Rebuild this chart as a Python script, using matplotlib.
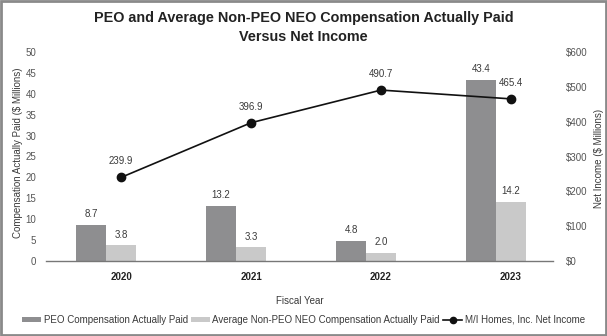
import matplotlib
matplotlib.use("Agg")
import matplotlib.pyplot as plt
from matplotlib.lines import Line2D
from matplotlib.patches import Patch, Rectangle
import numpy as np

plt.rcParams['font.family'] = ['Liberation Sans', 'DejaVu Sans']

years = ["2020", "2021", "2022", "2023"]
peo_cap = [8.7, 13.2, 4.8, 43.4]
neo_cap = [3.8, 3.3, 2.0, 14.2]
net_income = [239.9, 396.9, 490.7, 465.4]

peo_color = "#8e8e90"
neo_color = "#c9c9c9"
text_color = "#3a3a3a"
tick_color = "#555555"
fs = 7

fig = plt.figure(figsize=(6.07, 3.36), dpi=100)
ax = fig.add_axes([46 / 607, 1 - 261 / 336, (553 - 46) / 607, (261 - 52) / 336])
ax2 = ax.twinx()

x = np.arange(len(years))
w = 0.23
ax.bar(x - w, peo_cap, width=w, align="center", color=peo_color, zorder=2)
ax.bar(x, neo_cap, width=w, align="center", color=neo_color, zorder=2)
for xi, v in zip(x, peo_cap):
    ax.annotate(f"{v:.1f}", (xi - w, v), xytext=(0, 4), textcoords="offset points",
                ha="center", va="bottom", fontsize=fs, color=text_color)
for xi, v in zip(x, neo_cap):
    ax.annotate(f"{v:.1f}", (xi, v), xytext=(0, 4), textcoords="offset points",
                ha="center", va="bottom", fontsize=fs, color=text_color)

ax2.plot(x, net_income, color="#111111", lw=1.2, marker="o", ms=6, zorder=3)
for xi, v in zip(x, net_income):
    ax2.annotate(f"{v:.1f}", (xi, v), xytext=(0, 8), textcoords="offset points",
                 ha="center", va="bottom", fontsize=fs, color=text_color)

ax.set_xlim(-0.577, 3.323)
ax.set_ylim(0, 50)
ax2.set_ylim(0, 600)
ax.set_yticks(range(0, 51, 5))
ax2.set_yticks(range(0, 601, 100))
ax2.set_yticklabels([f"${v}" for v in range(0, 601, 100)])
ax.set_xticks(x)
ax.set_xticklabels(years, fontweight="bold", fontsize=fs, color="#222222")

for a in (ax, ax2):
    for s in a.spines.values():
        s.set_visible(False)
    a.tick_params(length=0, labelsize=fs, colors=tick_color)
ax.spines["bottom"].set_visible(True)
ax.spines["bottom"].set_color("#777777")
ax.spines["bottom"].set_linewidth(1.0)
ax.tick_params(axis="x", pad=8, labelcolor="#222222")
ax.tick_params(axis="y", pad=7)
ax2.tick_params(axis="y", pad=9)

ax.set_ylabel("Compensation Actually Paid ($ Millions)", fontsize=fs, color=text_color)
ax2.set_ylabel("Net Income ($ Millions)", fontsize=fs, color=text_color)
ax.yaxis.set_label_coords(-0.045, 0.52)
ax2.yaxis.set_label_coords(1.080, 0.49)
ax.set_xlabel("Fiscal Year", fontsize=fs, color=text_color, labelpad=10)

fig.text(0.5, 1 - 18 / 336, "PEO and Average Non-PEO NEO Compensation Actually Paid",
         ha="center", va="center", fontsize=10.4, fontweight="bold", color="#222222")
fig.text(0.5, 1 - 37 / 336, "Versus Net Income",
         ha="center", va="center", fontsize=10.4, fontweight="bold", color="#222222")

handles = [
    Patch(facecolor=peo_color, edgecolor="none"),
    Patch(facecolor=neo_color, edgecolor="none"),
    Line2D([], [], color="#111111", lw=1.2, marker="o", ms=4.5),
]
labels = ["PEO Compensation Actually Paid",
          "Average Non-PEO NEO Compensation Actually Paid",
          "M/I Homes, Inc. Net Income"]
leg = fig.legend(handles, labels, loc="center", bbox_to_anchor=(0.5, 1 - 320 / 336),
                 ncol=3, frameon=False, fontsize=fs, handlelength=1.9, handleheight=0.45,
                 handletextpad=0.3, columnspacing=0.35)
for t in leg.get_texts():
    t.set_color(text_color)

fig.patches.append(Rectangle((0.002, 0.003), 0.996, 0.994, transform=fig.transFigure,
                             fill=False, edgecolor="#8a8a8a", lw=2))

fig.savefig("out.png", dpi=100)
